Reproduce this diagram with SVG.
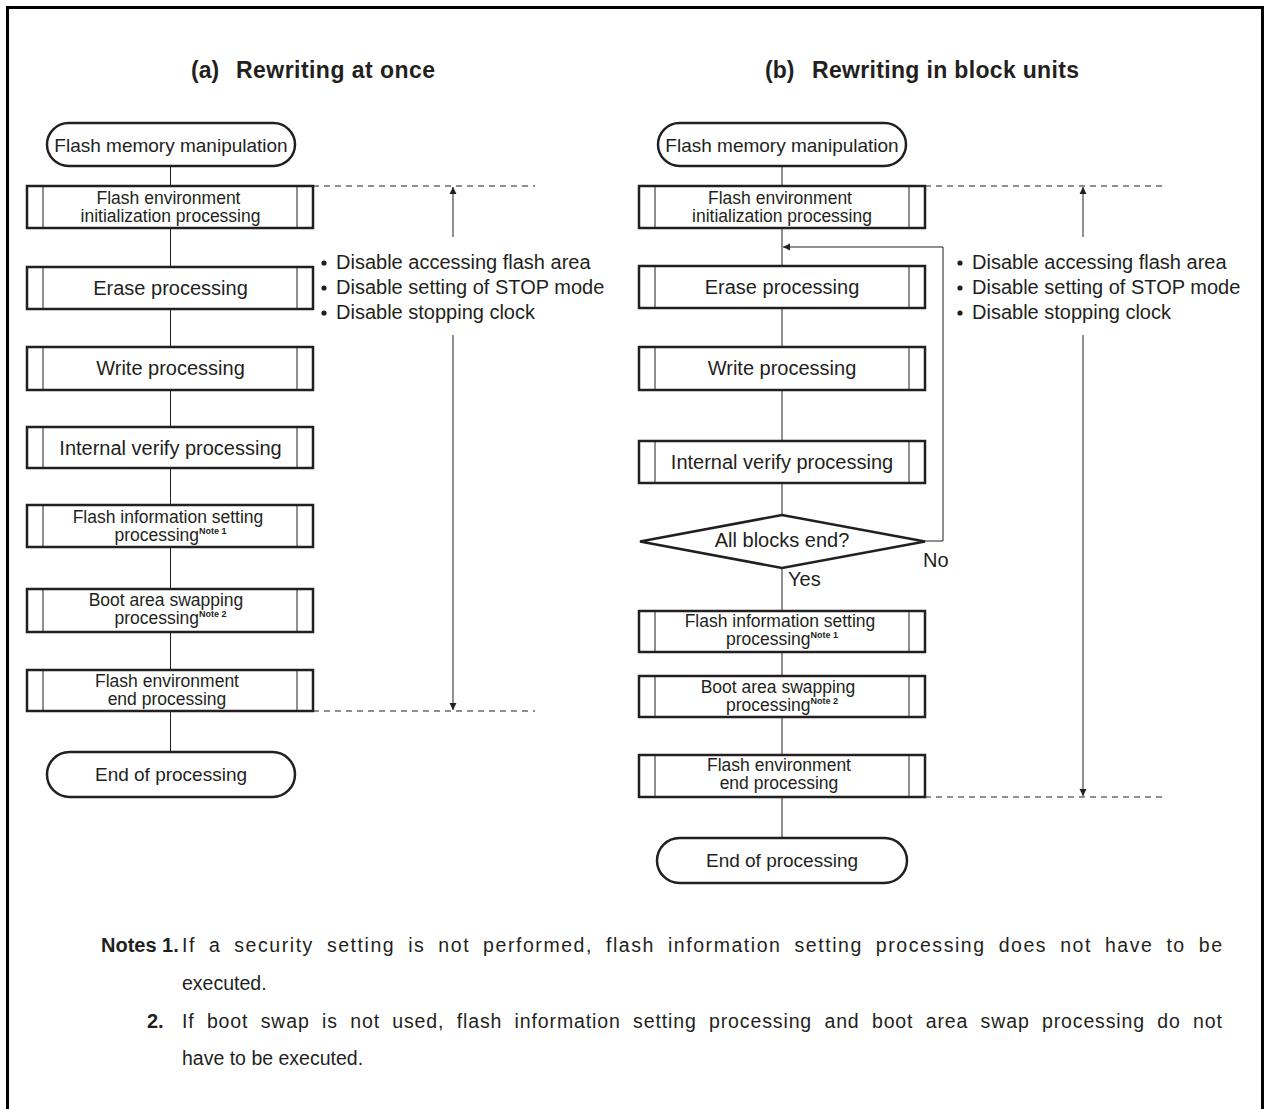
<svg xmlns="http://www.w3.org/2000/svg" width="1267" height="1109" viewBox="0 0 1267 1109">
<defs>
<style>
.t{font-family:"Liberation Sans",Arial,sans-serif;fill:#231f20}
.c{text-anchor:middle}
.b{font-size:20px}
.s{font-size:17.5px}
.n{font-size:19px}
.fn{font-size:19.5px}
.h{font-size:23px;font-weight:bold}
.hn{font-size:20px;font-weight:bold}
.sup{font-size:9px;font-weight:bold}
.box{fill:#fff;stroke:#231f20;stroke-width:2.5}
.in{stroke:#231f20;stroke-width:1}
.ln{stroke:#231f20;stroke-width:1;fill:none}
.dash{stroke:#231f20;stroke-width:1;stroke-dasharray:6,5;fill:none}
.gl{stroke:#555;stroke-width:1.3;fill:none}
</style>
<marker id="ah" viewBox="0 0 10 10" refX="10" refY="5" markerWidth="7" markerHeight="9" markerUnits="userSpaceOnUse" orient="auto"><path d="M0,0 L10,5 L0,10 z" fill="#231f20"/></marker>
</defs>
<rect width="1267" height="1109" fill="#fff"/>
<rect x="7.5" y="7.5" width="1255" height="1120" fill="none" stroke="#000" stroke-width="3"/>

<text class="t h" x="191" y="78">(a)</text>
<text class="t h" x="236" y="78" textLength="199" lengthAdjust="spacing">Rewriting at once</text>
<text class="t h" x="765" y="78">(b)</text>
<text class="t h" x="812" y="78" textLength="267" lengthAdjust="spacing">Rewriting in block units</text>

<g id="connectors">
<path class="ln" d="M170.5,166V186M170.5,228V267M170.5,309V347M170.5,390V427M170.5,468V505M170.5,547V589M170.5,632V670M170.5,711V752"/>
<path class="ln" d="M782,166V186M782,228V266M782,308V347M782,390V441M782,483V515M782,568V611M782,652V676M782,717V755M782,798V838"/>
<path class="ln" d="M925,541H943V247H783" marker-end="url(#ah)"/>
<path class="dash" d="M313,186H535M313,711H535M925,186H1165M925,797H1165"/>
<path class="gl" d="M453,237V187" marker-end="url(#ah)"/>
<path class="gl" d="M453,335V710" marker-end="url(#ah)"/>
<path class="gl" d="M1083,237V187" marker-end="url(#ah)"/>
<path class="gl" d="M1083,335V796" marker-end="url(#ah)"/>
</g>

<g id="a-start"><rect class="box" x="47" y="123" width="248" height="43" rx="21.5"/><text class="t n c" x="171" y="152">Flash memory manipulation</text></g>
<g id="a-init"><rect class="box" x="27" y="186" width="286" height="42"/><path class="in" d="M43,186V228M297,186V228"/><text class="t s c" x="168.5" y="204">Flash environment</text><text class="t s c" x="170.5" y="222">initialization processing</text></g>
<g id="a-erase"><rect class="box" x="27" y="267" width="286" height="42"/><path class="in" d="M43,267V309M297,267V309"/><text class="t b c" x="170.5" y="295">Erase processing</text></g>
<g id="a-write"><rect class="box" x="27" y="347" width="286" height="43"/><path class="in" d="M43,347V390M297,347V390"/><text class="t b c" x="170.5" y="375">Write processing</text></g>
<g id="a-verify"><rect class="box" x="27" y="427" width="286" height="41"/><path class="in" d="M43,427V468M297,427V468"/><text class="t b c" x="170.5" y="455">Internal verify processing</text></g>
<g id="a-info"><rect class="box" x="27" y="505" width="286" height="42"/><path class="in" d="M43,505V547M297,505V547"/><text class="t s c" x="168" y="523">Flash information setting</text><text class="t s c" x="170.5" y="541">processing<tspan class="sup" dy="-7">Note 1</tspan></text></g>
<g id="a-boot"><rect class="box" x="27" y="589" width="286" height="43"/><path class="in" d="M43,589V632M297,589V632"/><text class="t s c" x="166" y="606">Boot area swapping</text><text class="t s c" x="170.5" y="624">processing<tspan class="sup" dy="-7">Note 2</tspan></text></g>
<g id="a-end-proc"><rect class="box" x="27" y="670" width="286" height="41"/><path class="in" d="M43,670V711M297,670V711"/><text class="t s c" x="167" y="687">Flash environment</text><text class="t s c" x="167" y="705">end processing</text></g>
<g id="a-end"><rect class="box" x="47" y="752" width="248" height="45" rx="22.5"/><text class="t n c" x="171" y="781">End of processing</text></g>

<g id="a-notes">
<circle cx="324" cy="263" r="2.6" fill="#231f20"/><text class="t b" x="336" y="269">Disable accessing flash area</text>
<circle cx="324" cy="288" r="2.6" fill="#231f20"/><text class="t b" x="336" y="294">Disable setting of STOP mode</text>
<circle cx="324" cy="313" r="2.6" fill="#231f20"/><text class="t b" x="336" y="319">Disable stopping clock</text>
</g>

<g id="b-start"><rect class="box" x="658" y="123" width="248" height="43" rx="21.5"/><text class="t n c" x="782" y="152">Flash memory manipulation</text></g>
<g id="b-init"><rect class="box" x="639" y="186" width="286" height="42"/><path class="in" d="M655,186V228M909,186V228"/><text class="t s c" x="780" y="204">Flash environment</text><text class="t s c" x="782" y="222">initialization processing</text></g>
<g id="b-erase"><rect class="box" x="639" y="266" width="286" height="42"/><path class="in" d="M655,266V308M909,266V308"/><text class="t b c" x="782" y="294">Erase processing</text></g>
<g id="b-write"><rect class="box" x="639" y="347" width="286" height="43"/><path class="in" d="M655,347V390M909,347V390"/><text class="t b c" x="782" y="375">Write processing</text></g>
<g id="b-verify"><rect class="box" x="639" y="441" width="286" height="42"/><path class="in" d="M655,441V483M909,441V483"/><text class="t b c" x="782" y="469">Internal verify processing</text></g>
<g id="b-decide"><polygon class="box" points="640,541.5 782,515 925,541.5 782,568"/><text class="t b c" x="782" y="547">All blocks end?</text></g>
<text class="t b" x="923" y="567">No</text>
<text class="t b" x="788" y="586">Yes</text>
<g id="b-info"><rect class="box" x="639" y="611" width="286" height="41"/><path class="in" d="M655,611V652M909,611V652"/><text class="t s c" x="780" y="627">Flash information setting</text><text class="t s c" x="782" y="645">processing<tspan class="sup" dy="-7">Note 1</tspan></text></g>
<g id="b-boot"><rect class="box" x="639" y="676" width="286" height="41"/><path class="in" d="M655,676V717M909,676V717"/><text class="t s c" x="778" y="693">Boot area swapping</text><text class="t s c" x="782" y="711">processing<tspan class="sup" dy="-7">Note 2</tspan></text></g>
<g id="b-end-proc"><rect class="box" x="639" y="755" width="286" height="42"/><path class="in" d="M655,755V797M909,755V797"/><text class="t s c" x="779" y="771">Flash environment</text><text class="t s c" x="779" y="789">end processing</text></g>
<g id="b-end"><rect class="box" x="657" y="838" width="250" height="45" rx="22.5"/><text class="t n c" x="782" y="867">End of processing</text></g>

<g id="b-notes">
<circle cx="960" cy="263" r="2.6" fill="#231f20"/><text class="t b" x="972" y="269">Disable accessing flash area</text>
<circle cx="960" cy="288" r="2.6" fill="#231f20"/><text class="t b" x="972" y="294">Disable setting of STOP mode</text>
<circle cx="960" cy="313" r="2.6" fill="#231f20"/><text class="t b" x="972" y="319">Disable stopping clock</text>
</g>

<g id="footnotes">
<text class="t hn" x="101" y="952">Notes 1.</text>
<text class="t fn" x="182" y="952" word-spacing="6" textLength="1040" lengthAdjust="spacing">If a security setting is not performed, flash information setting processing does not have to be</text>
<text class="t fn" x="182" y="990">executed.</text>
<text class="t hn" x="147" y="1028">2.</text>
<text class="t fn" x="182" y="1028" word-spacing="6" textLength="1040" lengthAdjust="spacing">If boot swap is not used, flash information setting processing and boot area swap processing do not</text>
<text class="t fn" x="182" y="1065">have to be executed.</text>
</g>
</svg>
